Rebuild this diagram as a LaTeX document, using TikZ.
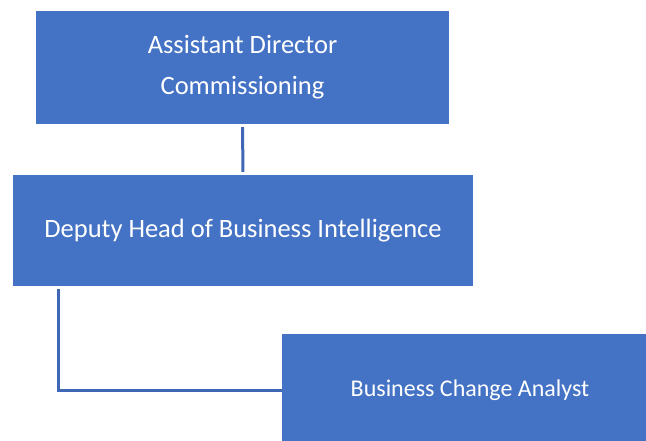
\documentclass[tikz,border=0pt]{standalone}
\usepackage{fontspec}
\setmainfont{Carlito}
\usetikzlibrary{positioning}
\definecolor{boxblue}{HTML}{4472C4}
\definecolor{linkblue}{HTML}{3F67B5}

\begin{document}
\begin{tikzpicture}[x=1pt, y=-1pt,
    post/.style={rectangle, fill=boxblue, text=white, align=center, inner sep=0pt,
                 font=\fontsize{26.5}{41}\selectfont},
    link/.style={draw=linkblue, line width=3pt}]
        \useasboundingbox (0,0) rectangle (646,440);
        \clip (0,0) rectangle (646,440);
        % the three posts
        \node[post, minimum width=413pt, minimum height=113pt] (adc) at (242.5,67.5) {Assistant Director\\Commissioning};
        \node[post, minimum width=460pt, minimum height=111pt] (dhbi) at (243,230.5) {Deputy Head of Business Intelligence};
        \node[post, minimum width=376pt, minimum height=112pt, font=\fontsize{24}{30}\selectfont] (bca) at (470,390) {Business Change Analyst};
        \coordinate (elbow) at (58,0);

        \draw[link, shorten <=3pt, shorten >=3pt] (adc.south) -- (dhbi.north);
        \draw[link, shorten <=3pt] (dhbi.south -| elbow) |- (bca.west);
    \end{tikzpicture}
\end{document}
